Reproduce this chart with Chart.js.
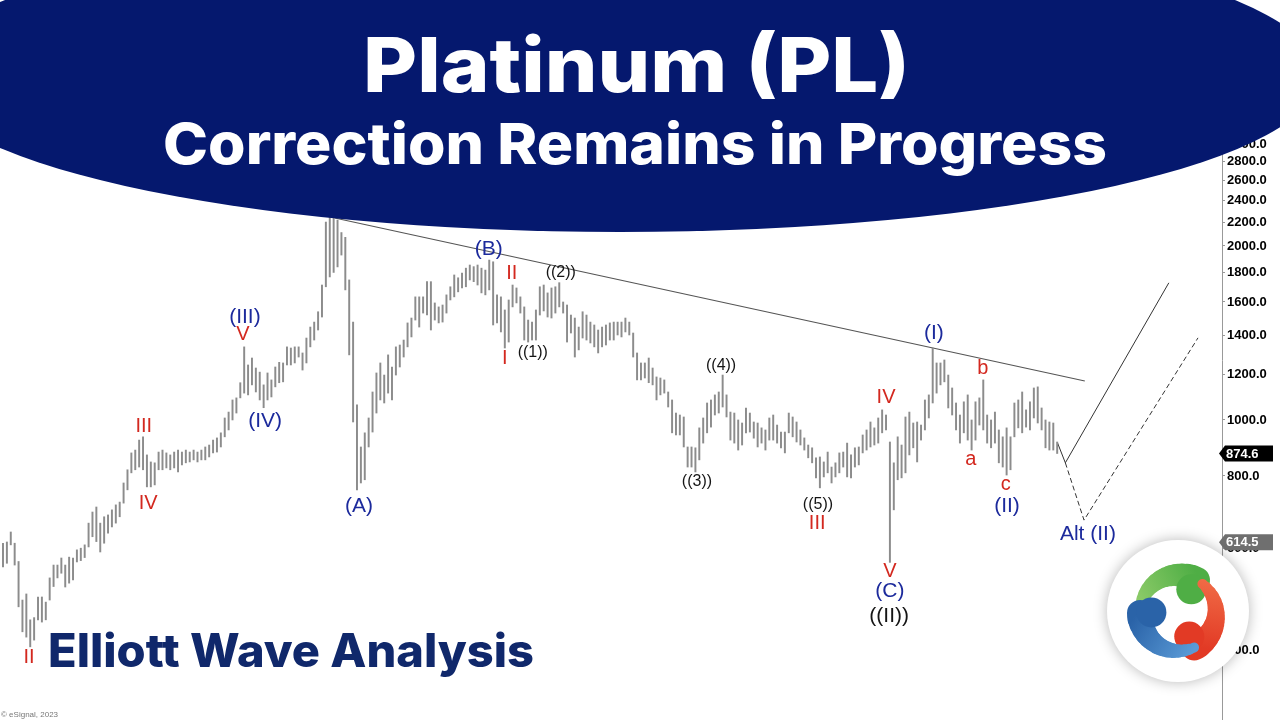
<!DOCTYPE html>
<html><head><meta charset="utf-8">
<script src="https://cdn.jsdelivr.net/npm/chart.js@4.4.0/dist/chart.umd.min.js"></script>
<style>html,body{margin:0;padding:0;background:#fff;overflow:hidden}#wrap{position:relative;width:1280px;height:720px}canvas{display:block}</style>
</head><body><div id="wrap"><canvas id="c" width="1280" height="720"></canvas></div>
<script>
// Monthly platinum bars, starting Mar 2001 (index 0)
const barHigh=[612,615,640,612,569,488,500,451,455,494,494,484,533,561,561,577,561,579,577,596,
600,608,663,693,707,663,680,685,699,713,721,778,820,877,887,923,935,870,846,843,
880,887,877,870,880,887,880,887,880,887,880,887,898,905,923,931,950,1008,1032,1083,
1092,1160,1338,1245,1280,1230,1210,1150,1206,1173,1235,1258,1255,1338,1332,1338,1338,1306,1386,1448,
1477,1539,1712,2200,2263,2236,2218,2110,2070,1747,1477,1062,898,950,1008,1118,1206,1255,1196,1296,
1235,1338,1348,1375,1472,1501,1633,1633,1633,1735,1735,1594,1569,1581,1646,1700,1782,1762,1796,1831,
1854,1842,1854,1831,1817,1891,1878,1646,1633,1550,1613,1712,1692,1633,1569,1489,1477,1550,1700,1712,
1659,1692,1700,1728,1600,1581,1519,1501,1448,1539,1519,1477,1460,1431,1448,1460,1472,1477,1477,1477,
1501,1477,1414,1306,1255,1255,1280,1230,1187,1182,1173,1118,1083,1028,1020,1012,898,898,895,969,
1008,1070,1083,1105,1118,1196,1105,1032,1028,1000,988,1049,1028,992,988,969,961,1008,1020,980,
953,953,1028,1012,992,961,931,905,895,860,863,846,880,829,843,877,880,912,870,895,
898,942,961,992,969,1008,1041,1020,916,843,935,905,1012,1032,988,992,980,1083,1105,1332,
1255,1255,1270,1196,1136,1070,1020,1075,1105,1000,1075,1092,1173,1020,1000,1032,961,935,969,935,
1070,1083,1118,1041,1075,1136,1141,1049,1000,992,988,916];
const barLow=[557,565,608,561,475,430,421,405,416,451,447,451,488,515,533,543,514,522,529,568,
571,578,603,628,616,591,612,637,653,663,680,718,757,810,820,829,820,766,766,772,
820,820,826,820,826,813,836,843,846,853,846,853,853,863,877,880,898,935,961,1000,
1028,1092,1113,1105,1150,1118,1083,1050,1083,1096,1141,1160,1164,1245,1245,1255,1285,1220,1255,1338,
1375,1431,1507,1700,1768,1800,1840,1929,1679,1296,992,757,778,788,898,953,1028,1083,1070,1113,
1083,1196,1235,1285,1338,1392,1489,1448,1531,1519,1431,1489,1472,1477,1531,1613,1633,1666,1692,1700,
1747,1735,1712,1659,1646,1679,1460,1472,1420,1332,1364,1569,1594,1531,1375,1364,1375,1375,1519,1544,
1507,1501,1531,1569,1531,1364,1414,1285,1322,1386,1375,1359,1338,1306,1338,1348,1375,1375,1403,1392,
1420,1403,1285,1173,1173,1182,1160,1150,1083,1105,1113,1053,950,942,942,898,829,829,813,853,
912,950,972,1020,1028,1053,1012,923,912,887,905,950,953,930,898,912,887,923,923,912,
895,877,950,935,916,905,887,860,843,794,763,797,810,778,797,810,829,797,794,829,
836,877,887,898,905,912,950,961,567,699,788,794,810,870,895,846,923,961,1008,1070,
1113,1150,1164,1049,1020,961,912,950,923,887,923,980,961,912,895,912,843,829,803,820,
935,969,950,972,961,1008,988,961,895,887,887,875];
const yTicks=[400,600,800,1000,1200,1400,1600,1800,2000,2200,2400,2600,2800,3000,3200];
const waveText =['II','III','IV','V','(III)','(IV)','(A)','(B)','I','II','((1))','((2))','((3))','((4))','((5))','III','IV','V','(C)','((II))','(I)','b','a','c','(II)','Alt (II)'];
const waveIndex=[6.7,36.2,37.3,61.7,62.2,67.4,91.5,124.9,129,130.8,136.2,143.4,178.4,184.6,209.5,209.3,227,228,228,227.8,239.3,251.9,248.8,257.8,258.1,278.9];
const wavePrice=[388,973,718,1403,1507,996,710,1976,1280,1796,1306,1796,781,1240,713,661,1092,546,506,458,1414,1230,856,772,710,635];
const waveKind =['r','r','r','r','b','b','b','b','r','r','k','k','k','k','k','r','r','r','b','K','b','r','r','r','b','b'];
const trendIdx=[85.3,278.1], trendPrice=[2236,1168];
const projIdx=[271,273.1,299.7], projPrice=[916,843,1727];
const altIdx=[273.1,277.9,307.2], altPrice=[843,671,1387];
const lastPrice=874.6, altLevel=614.5;

const kindStyle={r:{c:'#d3281f',s:20},b:{c:'#1c2a9c',s:21},k:{c:'#151515',s:16},K:{c:'#151515',s:21}};

// draw text with a given cap-height-based size, stretched horizontally to a target width
function fitText(ctx,text,weight,family,size,targetW,x,base,align,color){
  ctx.save();
  ctx.font=`${weight} ${size}px ${family}`;
  const w=ctx.measureText(text).width;
  const sx=targetW/w;
  let left = align==='center' ? x-targetW/2 : x;
  ctx.translate(left,base); ctx.scale(sx,1);
  ctx.textAlign='left'; ctx.textBaseline='alphabetic'; ctx.fillStyle=color;
  ctx.fillText(text,0,0);
  ctx.restore();
}

const overlay={id:'overlay',afterDraw(chart){
  const ctx=chart.ctx, xs=chart.scales.x, ys=chart.scales.y;
  ctx.save();
  for(let i=0;i<waveText.length;i++){
    const st=kindStyle[waveKind[i]];
    ctx.font=`${st.s}px "Liberation Sans", Arial, sans-serif`;
    ctx.fillStyle=st.c; ctx.textAlign='center'; ctx.textBaseline='middle';
    ctx.fillText(waveText[i],xs.getPixelForValue(waveIndex[i]),ys.getPixelForValue(wavePrice[i]));
  }
  function tag(v,col){
    const y=ys.getPixelForValue(v);
    ctx.fillStyle=col; ctx.beginPath();
    ctx.moveTo(1219,y); ctx.lineTo(1225,y-8); ctx.lineTo(1273,y-8); ctx.lineTo(1273,y+8); ctx.lineTo(1225,y+8); ctx.closePath(); ctx.fill();
    ctx.fillStyle='#fff'; ctx.font='bold 13px "Liberation Sans", Arial'; ctx.textAlign='left'; ctx.textBaseline='middle';
    ctx.fillText(v.toFixed(1),1226,y+0.5);
  }
  tag(altLevel,'#6f6f6f');
  tag(lastPrice,'#000');
  // banner
  ctx.fillStyle='#05186e';
  ctx.beginPath(); ctx.ellipse(620,75,700,157,0,0,Math.PI*2); ctx.fill();
  const fam='Inter, "Open Sans", sans-serif';
  fitText(ctx,'Platinum (PL)','800',fam,76,547,636.5,92,'center','#fff');
  fitText(ctx,'Correction Remains in Progress','800',fam,57,944,635,164,'center','#fff');
  fitText(ctx,'Elliott Wave Analysis','800',fam,46,486,48,667,'left','#10286b');
  ctx.font='8px "Liberation Sans", Arial'; ctx.fillStyle='#777'; ctx.textAlign='left'; ctx.textBaseline='alphabetic';
  ctx.fillText('\u00a9 eSignal, 2023',1,717);
  // logo
  const cx=1178, cy=611;
  ctx.save(); ctx.shadowColor='rgba(0,0,0,0.28)'; ctx.shadowBlur=14;
  ctx.fillStyle='#fff'; ctx.beginPath(); ctx.arc(cx,cy,71,0,Math.PI*2); ctx.fill(); ctx.restore();
  const d=Math.PI/180;
  function blade(a0,a1,col,col2){
    const g=ctx.createLinearGradient(cx+40*Math.cos(a0*d),cy+40*Math.sin(a0*d),cx+40*Math.cos(a1*d),cy+40*Math.sin(a1*d));
    g.addColorStop(0,col2); g.addColorStop(1,col);
    ctx.strokeStyle=g; ctx.lineCap='round';
    for(let k=0;k<14;k++){
      const t0=a0+(a1-a0)*k/14, t1=a0+(a1-a0)*(k+1)/14;
      ctx.lineWidth=10+16*(k/13);
      ctx.beginPath(); ctx.arc(cx,cy+2,38,t0*d,t1*d); ctx.stroke();
    }
    const hx=cx+38*Math.cos(a1*d), hy=cy+2+38*Math.sin(a1*d);
    ctx.fillStyle=col; ctx.beginPath(); ctx.arc(hx+(cx-hx)*0.3,hy+(cy-hy)*0.3,15,0,Math.PI*2); ctx.fill();
  }
  blade(185,300,'#4fae45','#8fcc6a');
  blade(310,425,'#e23a25','#f06a45');
  blade(65,180,'#2a63a8','#5a9ad6');
  ctx.restore();
}};

const lineDs=(xa,ya,dash,col,w)=>({type:'line',data:xa.map((x,i)=>({x,y:ya[i]})),borderColor:col,borderWidth:w,borderDash:dash,pointRadius:0,tension:0,fill:false});

new Chart(document.getElementById('c').getContext('2d'),{
  type:'bar',
  data:{datasets:[
    {type:'bar',data:barHigh.map((h,i)=>({x:i,y:[barLow[i],h]})),backgroundColor:'#8c8c8c',barThickness:1.3,borderWidth:0,grouped:false},
    lineDs(trendIdx,trendPrice,[],'#555',1.2),
    lineDs(projIdx,projPrice,[],'#333',1),
    lineDs(altIdx,altPrice,[5,3],'#333',1)
  ]},
  options:{responsive:false,animation:false,events:[],layout:{padding:0},
    plugins:{legend:{display:false},tooltip:{enabled:false},title:{display:false}},
    scales:{
      x:{type:'linear',min:-0.771,max:313.37,display:false,offset:false,grid:{display:false}},
      y:{type:'logarithmic',position:'right',min:302.6,max:5329,
        afterFit(s){s.width=58;s.paddingTop=0;s.paddingBottom=0;},
        afterBuildTicks(s){s.ticks=yTicks.map(v=>({value:v}));},
        ticks:{callback:v=>Number(v).toFixed(1),color:'#000',font:{family:'"Liberation Sans", Arial',weight:'bold',size:13},padding:2,autoSkip:false},
        grid:{drawOnChartArea:false,tickLength:3,color:'#999'},border:{color:'#999'}}
    }
  },
  plugins:[overlay]
});
</script></body></html>
